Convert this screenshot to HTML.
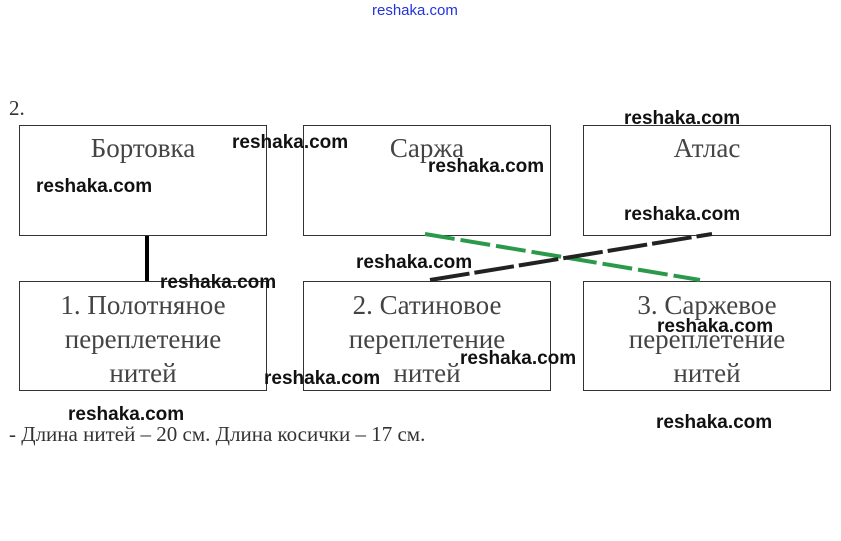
<!DOCTYPE html>
<html><head><meta charset="utf-8"><style>
body{margin:0;width:841px;height:541px;background:#fff;position:relative;overflow:hidden;font-family:"Liberation Serif",serif}
.b{position:absolute;border:1px solid #333;box-sizing:border-box;color:#444;font-size:27px;text-align:center;line-height:34px}
.w{position:absolute;font-family:"Liberation Sans",sans-serif;font-weight:bold;font-size:19px;color:#111;line-height:22px;white-space:nowrap}
.t{position:absolute;color:#333;font-size:21px}
</style></head><body>
<div style="position:absolute;left:372px;top:2px;font-family:'Liberation Sans',sans-serif;font-size:15px;color:#2233dd">reshaka.com</div>
<div class="t" style="left:9px;top:96px">2.</div>
<div class="b" style="left:19px;top:125px;width:248px;height:111px;padding-top:5px">Бортовка</div>
<div class="b" style="left:303px;top:125px;width:248px;height:111px;padding-top:5px">Саржа</div>
<div class="b" style="left:583px;top:125px;width:248px;height:111px;padding-top:5px">Атлас</div>
<div class="b" style="left:19px;top:281px;width:248px;height:110px;padding-top:6px">1. Полотняное<br>переплетение<br>нитей</div>
<div class="b" style="left:303px;top:281px;width:248px;height:110px;padding-top:6px">2. Сатиновое<br>переплетение<br>нитей</div>
<div class="b" style="left:583px;top:281px;width:248px;height:110px;padding-top:6px">3. Саржевое<br>переплетение<br>нитей</div>
<svg style="position:absolute;left:0;top:0" width="841" height="541">
<line x1="147" y1="236" x2="147" y2="281" stroke="#000" stroke-width="4"/>
<line x1="425" y1="234" x2="700" y2="280" stroke="#2a9a4a" stroke-width="4" stroke-dasharray="30,6"/>
<line x1="430" y1="280" x2="712" y2="234" stroke="#222" stroke-width="4" stroke-dasharray="40,5"/>
</svg>
<div class="t" style="left:9px;top:422px">- Длина нитей – 20 см. Длина косички – 17 см.</div>
<div class="w" style="left:232px;top:132px">reshaka.com</div>
<div class="w" style="left:428px;top:156px">reshaka.com</div>
<div class="w" style="left:624px;top:108px">reshaka.com</div>
<div class="w" style="left:36px;top:176px">reshaka.com</div>
<div class="w" style="left:624px;top:204px">reshaka.com</div>
<div class="w" style="left:160px;top:272px">reshaka.com</div>
<div class="w" style="left:356px;top:252px">reshaka.com</div>
<div class="w" style="left:657px;top:316px">reshaka.com</div>
<div class="w" style="left:460px;top:348px">reshaka.com</div>
<div class="w" style="left:264px;top:368px">reshaka.com</div>
<div class="w" style="left:68px;top:404px">reshaka.com</div>
<div class="w" style="left:656px;top:412px">reshaka.com</div>
</body></html>
